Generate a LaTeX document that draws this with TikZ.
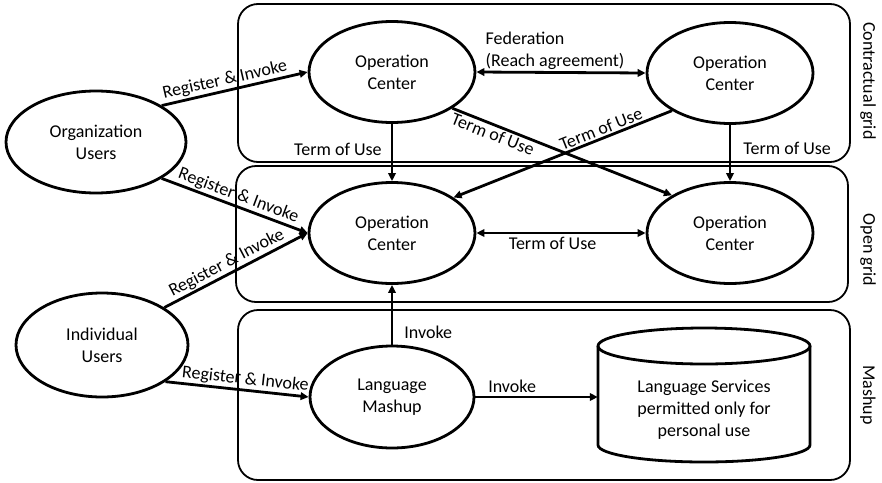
\documentclass[tikz,border=0pt]{standalone}
\usepackage{fontspec}
\setmainfont{Carlito}
\usetikzlibrary{shapes.geometric,arrows.meta}
\begin{document}
\begin{tikzpicture}[x=1pt,y=-1pt,
  every node/.style={font=\fontsize{18}{22}\selectfont},
  party/.style={ellipse,draw,line width=2.8pt,minimum width=178pt,minimum height=102pt,inner sep=0pt,align=center},
  opc/.style={party,minimum width=166pt,minimum height=101pt},
  gridbox/.style={draw,line width=1.8pt,rounded corners=20pt},
  link/.style={line width=2.8pt,-{Triangle[length=8pt,width=7.5pt]}},
  back/.style={line width=2.8pt,{Triangle[length=8pt,width=7.5pt]}-},
  both/.style={line width=2.8pt,{Triangle[length=8pt,width=7.5pt]}-{Triangle[length=8pt,width=7.5pt]}},
  lbl/.style={inner sep=1.5pt}
]
\useasboundingbox (0,0) rectangle (882,482);

% grid regions
\draw[gridbox] (238,4) rectangle (850,162);
\draw[gridbox] (236,166) rectangle (848,302);
\draw[gridbox] (238,310) rectangle (850,480);
\node[rotate=-90] (lc) at (868,81) {Contractual grid};
\node[rotate=-90] (lo) at (868,250) {Open grid};
\node[rotate=-90] (lm) at (868,395) {Mashup};

% users
\node[party,minimum width=180pt] (org) at (96,142) {Organization\\Users};
\node[party,minimum width=172pt,minimum height=104pt] (ind) at (102,345) {Individual\\Users};

% operation centers
\node[opc] (oc1) at (392,72) {Operation\\Center};
\node[opc] (oc2) at (730,73) {Operation\\Center};
\node[opc] (oc3) at (392,233) {Operation\\Center};
\node[opc] (oc4) at (730,233) {Operation\\Center};
\node[opc,minimum width=164pt,minimum height=102pt] (mash) at (392,397) {Language\\Mashup};

% language services store
\node[inner sep=0pt,minimum width=212pt,minimum height=134pt] (svc) at (704,395) {};
\draw[line width=2.8pt] (704,346) ellipse [x radius=106, y radius=18];
\draw[line width=2.8pt] (598,346) -- (598,445) arc[start angle=180, end angle=0, x radius=106, y radius=17] -- (810,346);
\node[align=center] (svct) at (704,410) {Language Services\\permitted only for\\personal use};

% registrations
\draw[link] (org.29) -- node[pos=0.45,sloped,above,lbl] {Register \& Invoke} (oc1.west);
\draw[link] (org.-29) -- node[pos=0.5,sloped,above,lbl] {Register \& Invoke} (oc3.west);
\draw[link] (ind.31) -- node[pos=0.47,sloped,above,lbl] {Register \& Invoke} (oc3.west);
\draw[link] (ind.-30) -- node[pos=0.55,sloped,above,lbl] {Register \& Invoke} (mash.west);

% relations between operation centers
\draw[both] (oc1.east) -- node[above,align=left,xshift=-6pt,inner sep=2pt] {Federation\\(Reach agreement)} (oc2.west);
\draw[link] (oc1.south) -- node[pos=0.44,left,inner sep=2pt,xshift=-7pt] {Term of Use} (oc3.north);
\draw[link] (oc2.south) -- node[pos=0.42,right,inner sep=2pt,xshift=10pt] {Term of Use} (oc4.north);
\draw[link] (oc1.-31) -- node[pos=0.2,sloped,below,lbl] {Term of Use} (oc4.147);
\draw[back] (oc3.30) -- node[pos=0.69,sloped,above,lbl] {Term of Use} (oc2.213);
\draw[both] (oc3.east) -- node[pos=0.45,below,inner sep=3pt] {Term of Use} (oc4.west);

% mashup invocations
\draw[link] (mash.north) -- node[pos=0.2,right,inner sep=2pt,xshift=9pt] {Invoke} (oc3.south);
\draw[link] (mash.east) -- node[pos=0.3,above,inner sep=3pt] {Invoke} (mash.east -| svc.west);
\end{tikzpicture}
\end{document}
